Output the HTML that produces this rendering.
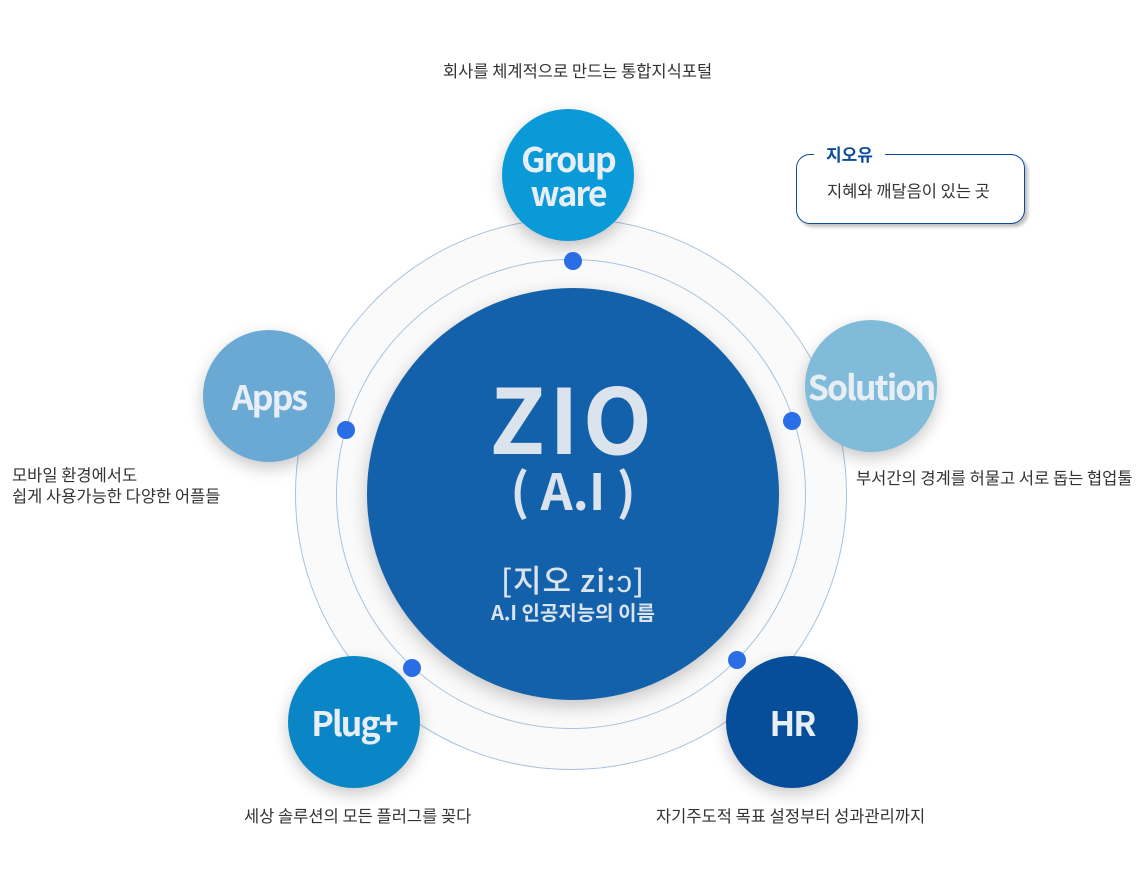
<!DOCTYPE html>
<html><head><meta charset="utf-8">
<style>
html,body{margin:0;padding:0;background:#fff;}
body{width:1140px;height:896px;position:relative;overflow:hidden;font-family:"Liberation Sans","Noto Sans CJK KR",sans-serif;}
.c{position:absolute;border-radius:50%;}
.sat{position:absolute;border-radius:50%;width:132px;height:132px;display:flex;align-items:center;justify-content:center;color:#e8eef5;font-family:"Noto Sans CJK KR",sans-serif;font-weight:700;font-size:34px;letter-spacing:-2px;box-shadow:0 6px 16px rgba(0,0,0,0.22);text-align:center;line-height:34px;}
.dot{position:absolute;width:18px;height:18px;border-radius:50%;background:#2a6ee6;}
.t{position:absolute;font-family:"Noto Sans CJK KR",sans-serif;font-size:16.5px;color:#333;white-space:nowrap;line-height:21px;}
</style></head><body>
<div class="c" style="left:295px;top:218px;width:552px;height:552px;border:1px solid #a9c3dc;box-sizing:border-box;background:#fafafa;"></div>
<div class="c" style="left:336px;top:259px;width:470px;height:470px;border:1px solid #a9c3dc;box-sizing:border-box;background:#fafafa;"></div>
<div class="c" style="left:367px;top:288px;width:412px;height:412px;background:#1461ab;box-shadow:0 6px 18px rgba(0,0,0,0.22);"></div>
<div style="position:absolute;left:367px;top:360px;width:412px;text-align:center;color:#dbe3ec;font-family:'Noto Sans CJK KR',sans-serif;">
 <div style="font-size:90px;font-weight:700;line-height:110px;letter-spacing:4px;">ZIO</div>
 <div style="font-size:50px;font-weight:700;line-height:50px;margin-top:-6px;">( A.I )</div>
 <div style="font-size:31px;font-weight:500;line-height:34px;margin-top:48px;letter-spacing:1px;">[지오 zi:ɔ]</div>
 <div style="font-size:20px;font-weight:700;line-height:24px;margin-top:4px;">A.I 인공지능의 이름</div>
</div>
<div class="sat" style="left:502px;top:109px;background:#0a9ad8;">Group<br>ware</div>
<div class="sat" style="left:805px;top:320px;background:#80bcd9;">Solution</div>
<div class="sat" style="left:726px;top:656px;background:#064e99;">HR</div>
<div class="sat" style="left:288px;top:656px;background:#0a86c6;">Plug+</div>
<div class="sat" style="left:203px;top:330px;background:#6ba9d5;">Apps</div>
<div class="dot" style="left:564px;top:252px;"></div>
<div class="dot" style="left:783px;top:412px;"></div>
<div class="dot" style="left:728px;top:651px;"></div>
<div class="dot" style="left:403px;top:659px;"></div>
<div class="dot" style="left:337px;top:421px;"></div>
<div class="t" style="left:443px;top:60px;">회사를 체계적으로 만드는 통합지식포털</div>
<div class="t" style="left:856px;top:467px;">부서간의 경계를 허물고 서로 돕는 협업툴</div>
<div class="t" style="left:656px;top:805px;">자기주도적 목표 설정부터 성과관리까지</div>
<div class="t" style="left:244px;top:805px;">세상 솔루션의 모든 플러그를 꽂다</div>
<div class="t" style="left:12px;top:464px;">모바일 환경에서도<br>쉽게 사용가능한 다양한 어플들</div>
<div style="position:absolute;left:796px;top:154px;width:229px;height:70px;border:1px solid #0d4a9a;border-radius:14px;box-sizing:border-box;box-shadow:3px 3px 3px rgba(0,0,0,0.25);background:#fff;"></div>
<div style="position:absolute;left:814px;top:142px;padding:0 12px;background:#fff;color:#0d4a9a;font-family:'Noto Sans CJK KR',sans-serif;font-weight:700;font-size:17px;line-height:24px;">지오유</div>
<div class="t" style="left:827px;top:180px;">지혜와 깨달음이 있는 곳</div>
</body></html>
